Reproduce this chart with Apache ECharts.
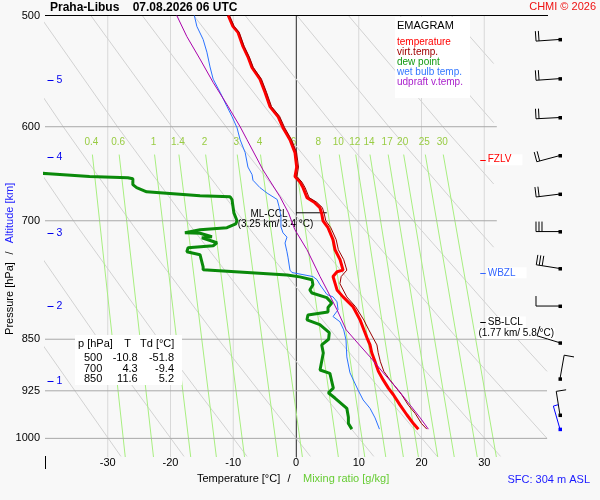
<!DOCTYPE html>
<html><head><meta charset="utf-8">
<script src="https://cdn.jsdelivr.net/npm/echarts@6/dist/echarts.min.js"></script>
<style>html,body{margin:0;padding:0;background:#f8f8f8}#c{width:600px;height:500px}</style>
</head><body><div id="c"></div>
<script>
// ================= DATA =================
const pressureTicks = [500, 600, 700, 850, 925, 1000];
const isotherms = [-30, -20, -10, 0, 10, 20, 30];
const altitudeKm = [5, 4, 3, 2, 1];
const altitudeP = [555.7, 630.9, 713.9, 804.8, 910.2];

const mixRatios = ['0.4', '0.6', '1', '1.4', '2', '3', '4', '6', '8', '10', '12', '14', '17', '20', '25', '30'];
const mixTopT = [-32.45, -28.18, -22.54, -18.66, -14.40, -9.37, -5.66, -0.25, 3.72, 6.89, 9.52, 11.79, 14.69, 17.16, 20.61, 23.47];
const mixBottomT = [-27.21, -22.71, -16.78, -12.69, -8.20, -2.89, 1.02, 6.75, 10.96, 14.31, 17.11, 19.51, 22.59, 25.22, 28.88, 31.93];
const mixTopP = 628, mixBottomP = 1031;

// dry adiabats: [T, p] points
const dryAdiabats = [
  [[-52.9, 707], [-41.0, 850], [-27.9, 1030]],
  [[-54.4, 600], [-43.9, 707], [-31.5, 850], [-17.85, 1030]],
  [[-57.3, 500], [-45.7, 600], [-34.8, 707], [-21.9, 850], [-7.8, 1030]],
  [[-49.1, 500], [-37.1, 600], [-25.8, 707], [-12.4, 850], [2.3, 1030]],
  [[-40.9, 500], [-28.45, 600], [-16.7, 707], [-2.85, 850], [12.4, 1030]],
  [[-32.7, 500], [-19.8, 600], [-7.65, 707], [6.7, 850], [22.5, 1030]],
  [[-24.5, 500], [-11.15, 600], [1.4, 707], [16.2, 850], [32.6, 1030]],
  [[-16.3, 500], [-2.5, 600], [10.5, 707], [25.8, 850], [40, 1000]],
  [[-8.1, 500], [6.1, 600], [19.5, 707], [35.3, 850], [40, 896]],
  [[0.15, 500], [14.8, 600], [28.6, 707], [31.5, 731]],
  [[8.35, 500], [23.4, 600], [31.5, 659]],
  [[16.55, 500], [31.5, 596]],
  [[24.75, 500], [31.5, 541]]
];

// profiles: [p, T]
const temperature = [[500,-10.8],[509,-10.05],[514,-9.25],[526,-8.45],[535,-7.66],[544.5,-7.02],[555,-5.74],[567,-4.94],[580.5,-4.15],[590,-2.87],[601,-2.07],[613,-0.96],[626,-0.16],[641,0.11],[651,-0.16],[657,0.64],[663,1.12],[674,1.75],[679,2.9],[685,3.8],[692,4.1],[700,4.3],[708,5.1],[722,5.9],[734,6.22],[746,7.02],[759,7.5],[761,6.54],[767,5.9],[784,6.54],[793,7.5],[806,9.09],[823.5,10.21],[841,11.0],[850,11.4],[858,11.8],[869,12.07],[882,12.6],[896,13.13],[909,13.92],[921,14.72],[931,15.52],[947,16.59],[962,17.66],[976,18.71],[985,19.5]];
const virtualTemp = [[500,-10.6],[509,-9.85],[514,-9.05],[526,-8.25],[535,-7.45],[544.5,-6.8],[555,-5.5],[567,-4.7],[580.5,-3.9],[590,-2.6],[601,-1.8],[613,-0.7],[626,0.1],[641,0.4],[651,0.15],[657,0.95],[663,1.45],[674,2.1],[679,3.3],[685,4.2],[692,4.5],[700,4.75],[708,5.55],[722,6.4],[734,6.75],[746,7.6],[759,8.1],[767,7.2],[776,7.0],[793,8.1],[806,9.5],[823.5,10.8],[837,11.6],[850,12.4],[858,12.9],[869,13.1],[882,13.45],[896,14.0],[909,15.0],[921,16.0],[931,16.85],[947,17.9],[960,19.0],[976,20.0],[985,20.85]];
const dewPoint = [[500,-51.8],[600,-48],[646,-45],[648,-39.4],[651,-32.9],[652.3,-26.8],[653.4,-26.0],[659.8,-26.0],[663,-25.4],[667.5,-23.8],[668.6,-21.7],[672,-15.3],[673,-10.5],[676,-10.2],[691,-9.9],[700,-9.4],[703.5,-9.6],[708,-11.0],[710.4,-15.3],[713.9,-17.7],[714.5,-15.3],[718.6,-13.4],[719.8,-15.0],[725.7,-12.6],[729.3,-13.2],[731.7,-17.2],[736.5,-17.4],[740,-15.3],[755,-14.8],[758.6,-14.8],[765,-1.4],[767.4,0.6],[771,2.55],[777.5,2.7],[784,2.2],[788,2.55],[794,4.9],[801,5.7],[807,5.1],[813,5.1],[817,1.9],[823.5,1.75],[830,3.8],[841,5.3],[850,5.2],[858,4.1],[869.5,4.35],[894,3.83],[899,5.4],[921,5.95],[928,5.15],[936,6.2],[952,8.1],[966,8.35],[976,8.35],[985,8.9]];
const wetBulb = [[500,-16.2],[509,-15.8],[520,-14.8],[531,-14.2],[544,-13.7],[555,-13.2],[567,-12.1],[580.5,-11.0],[590,-10.2],[601,-9.4],[613,-8.9],[626,-8.1],[641,-7.66],[649,-7.0],[655,-6.86],[663,-5.74],[669,-4.6],[676,-3.0],[684,-2.7],[695,-2.4],[707,-2.4],[714,-2.07],[719,-1.44],[726,-1.75],[736.5,-1.44],[743,-1.28],[759,-0.96],[762,-0.64],[767,2.7],[771,3.35],[777.5,3.83],[790,4.94],[793,5.9],[799.5,6.54],[810,6.7],[819,5.9],[826,7.0],[837,7.6],[851,7.97],[875,8.1],[898,8.6],[924,9.9],[939,10.7],[952,11.8],[967,12.6],[985,13.3]];
const updraftVT = [[500,-19.0],[517.5,-17.4],[537,-15.3],[558,-13.2],[578.6,-11.0],[600,-8.9],[613,-7.8],[644,-5.26],[673,-2.55],[691,-1.2],[710,-0.2],[734,1.75],[767,3.83],[784,4.94],[810,6.54],[837,8.0],[851,9.4],[875,11.8],[898,13.9],[921,16.06],[947,18.2],[967,19.8],[985,21.1]];

// wind
const windP = [520, 554.5, 591, 629, 670, 712.5, 757, 805, 855, 907, 962.5, 985];
const windDir = [266, 266, 267, 255, 263, 270, 279, 270, 287, 10, 351, 344];
const windSpeed = [20, 20, 20, 20, 20, 30, 30, 10, 10, 10, 10, 5];

// levels
const levelNames = ['FZLV', 'WBZL', 'SB-LCL'];
const levelP = [633.3, 762.4, 826.2];
const levelNotes = ['', '', '(1.77 km/ 5.8 °C)'];
const mlCclP = 690.9;
const mlCclT = [0, 4.9];
const mlCclNote = '(3.25 km/ 3.4 °C)';

// table
const tableP = [500, 700, 850];
const tableT = [-10.8, 4.3, 11.6];
const tableTd = [-51.8, -9.4, 5.2];

// ================= STYLE / LAYOUT =================
const FONT = '"Liberation Sans", Arial, sans-serif';
const WIND_T = 42.07;     // horizontal station position of barbs (in °C axis units)
const LEVEL_T = 30;       // anchor of level markers
const levelColors = ['#ff0000', '#3366ff', '#000000'];

function txt(x, y, text, o) {
  const s = Object.assign({text: text, fill: '#000', fontSize: 11, fontFamily: FONT,
    align: 'left', textAlign: 'left', verticalAlign: 'middle', textVerticalAlign: 'middle'}, o || {});
  if (o && o.align) s.textAlign = o.align;
  return {type: 'text', x: x, y: y, style: s};
}
function seg(x1, y1, x2, y2, c, w) {
  return {type: 'line', shape: {x1: x1, y1: y1, x2: x2, y2: y2}, style: {stroke: c, lineWidth: w || 1}};
}
function lineSeries(pts, color, width, z, clip) {
  return {type: 'line', data: pts, showSymbol: false, symbol: 'none', silent: true, animation: false,
    clip: clip !== false, z: z, lineStyle: {color: color, width: width}};
}
const flip = arr => arr.map(d => [d[1], d[0]]);

const series = [];
// isotherms
isotherms.forEach(t => series.push(lineSeries([[t, 500], [t, 1031]], t === 0 ? '#a0a0a0' : '#d8d8d8', 1, 1)));
// dry adiabats
dryAdiabats.forEach(a => series.push(lineSeries(a, '#d2d2d2', 1, 1)));
// mixing ratio lines
mixRatios.forEach((w, i) => series.push(lineSeries([[mixTopT[i], mixTopP], [mixBottomT[i], mixBottomP]], '#a8ee80', 1, 1)));
// isobars
pressureTicks.forEach(p => {
  if (p === 500) series.push(lineSeries([[-40, p], [47, p]], '#000', 1, 2, false));
  else series.push(lineSeries([[-40, p], [p >= 800 ? 40 : 32, p]], '#a8a8a8', 1, 1));
});

// text-like marks at data coordinates
series.push({
  type: 'custom', clip: false, silent: true, animation: false, z: 2,
  data: mixRatios.map((w, i) => [mixTopT[i], mixTopP]),
  encode: {x: 0, y: 1},
  renderItem: (params, api) => {
    const pt = api.coord([api.value(0), api.value(1)]);
    return txt(pt[0] - 1, pt[1] - 12, mixRatios[params.dataIndex], {fill: '#99cc44', fontSize: 10, align: 'center'});
  }
});
series.push({
  type: 'custom', clip: false, silent: true, animation: false, z: 3,
  data: pressureTicks.map(p => [-40, p]),
  encode: {x: 0, y: 1},
  renderItem: (params, api) => {
    const pt = api.coord([api.value(0), api.value(1)]);
    return txt(pt[0] - 5, pt[1], String(pressureTicks[params.dataIndex]), {align: 'right'});
  }
});
series.push({
  type: 'custom', clip: false, silent: true, animation: false, z: 3,
  data: altitudeP.map(p => [-40, p]),
  encode: {x: 0, y: 1},
  renderItem: (params, api) => {
    const pt = api.coord([api.value(0), api.value(1)]);
    return {type: 'group', children: [
      seg(pt[0] + 2.5, Math.round(pt[1]) + 0.5, pt[0] + 8.5, Math.round(pt[1]) + 0.5, '#0000ee', 1),
      txt(pt[0] + 11.5, pt[1], String(altitudeKm[params.dataIndex]), {fill: '#0000ee', fontSize: 10.5})
    ]};
  }
});
series.push({
  type: 'custom', clip: false, silent: true, animation: false, z: 6,
  data: levelP.map(p => [LEVEL_T, p]),
  encode: {x: 0, y: 1},
  renderItem: (params, api) => {
    const i = params.dataIndex;
    const pt = api.coord([api.value(0), api.value(1)]);
    const c = levelColors[i];
    const y = Math.round(pt[1]) + 0.5;
    const ch = [];
    if (levelNotes[i]) ch.push(txt(pt[0] + 32, pt[1] + 11.5, levelNotes[i], {fontSize: 10, align: 'center', backgroundColor: '#fff', padding: [0, 1, 1, 1]}));
    ch.push(txt(pt[0] + 2.5, pt[1], levelNames[i], {fill: c, fontSize: 10, backgroundColor: '#fff', padding: [1, levelNotes[i] ? 3 : 11, 0, 1]}));
    ch.push(seg(pt[0] - 4, y, pt[0] + 1.5, y, c, 1));
    return {type: 'group', children: ch};
  }
});
// ML-CCL
series.push(lineSeries(mlCclT.map(t => [t, mlCclP]), '#000', 1, 2));
series.push({
  type: 'custom', clip: false, silent: true, animation: false, z: 2,
  data: [[mlCclT[0], mlCclP]],
  encode: {x: 0, y: 1},
  renderItem: (params, api) => {
    const pt = api.coord([api.value(0), api.value(1)]);
    return {type: 'group', children: [
      txt(pt[0] - 27, pt[1] + 1, 'ML-CCL', {fontSize: 10, align: 'center'}),
      txt(pt[0] - 20.5, pt[1] + 11.3, mlCclNote, {fontSize: 10, align: 'center'})
    ]};
  }
});

// profiles
series.push(lineSeries(flip(dewPoint), '#0a8a0a', 3, 4));
series.push(lineSeries(flip(wetBulb), '#2a72ff', 1, 4));
series.push(lineSeries(flip(temperature), '#ff0000', 3, 4));
series.push(lineSeries(flip(virtualTemp), '#990000', 1, 5));
series.push(lineSeries(flip(updraftVT), '#aa00aa', 1, 5));

// wind barbs
series.push({
  type: 'custom', clip: false, silent: true, animation: false, z: 6,
  data: windP.map((p, i) => [WIND_T, p, windDir[i], windSpeed[i]]),
  encode: {x: 0, y: 1},
  renderItem: (params, api) => {
    const i = params.dataIndex;
    const pt = api.coord([api.value(0), api.value(1)]);
    const dir = api.value(2) * Math.PI / 180, spd = api.value(3);
    const color = i === windP.length - 1 ? '#0000ff' : '#000000';
    const ux = Math.sin(dir), uy = -Math.cos(dir);
    const L = 24;
    const ex = pt[0] + ux * L, ey = pt[1] + uy * L;
    const bx = -uy, by = ux;
    const ch = [seg(pt[0], pt[1], ex, ey, color, 1)];
    let pos = 0;
    const full = Math.floor(spd / 10), half = (spd % 10) >= 5;
    for (let k = 0; k < full; k++) {
      const sx = ex - ux * pos, sy = ey - uy * pos;
      ch.push(seg(sx, sy, sx + bx * 10, sy + by * 10, color, 1));
      pos += 3;
    }
    if (half) {
      const sx = ex - ux * pos, sy = ey - uy * pos;
      ch.push(seg(sx, sy, sx + bx * 5, sy + by * 5, color, 1));
    }
    ch.push({type: 'rect', shape: {x: pt[0] - 1.5, y: pt[1] - 1.5, width: 3.5, height: 3.5}, style: {fill: color}});
    return {type: 'group', children: ch};
  }
});

// ================= GRAPHIC (titles, legend, table) =================
function gtxt(x, y, text, o) { const t = txt(x, y, text, o); t.z = 20; return t; }
const graphic = [
  gtxt(50, 8, 'Praha-Libus    07.08.2026 06 UTC', {fontSize: 12, fontWeight: 'bold'}),
  gtxt(596, 7, 'CHMI © 2026', {fill: '#ee1111', fontSize: 11, align: 'right'}),
  {type: 'rect', z: 19, shape: {x: 395, y: 17, width: 75, height: 81}, style: {fill: '#ffffff'}},
  gtxt(397, 26, 'EMAGRAM', {fontSize: 11}),
  gtxt(397, 42, 'temperature', {fill: '#ff0000', fontSize: 10}),
  gtxt(397, 52, 'virt.temp.', {fill: '#a00000', fontSize: 10}),
  gtxt(397, 62, 'dew point', {fill: '#119911', fontSize: 10}),
  gtxt(397, 72, 'wet bulb temp.', {fill: '#3377ff', fontSize: 10}),
  gtxt(397, 82, 'udpraft v.temp.', {fill: '#aa22cc', fontSize: 10}),
  {type: 'rect', z: 19, shape: {x: 75, y: 335, width: 107, height: 50}, style: {fill: '#ffffff'}},
  gtxt(78, 344, 'p [hPa]'),
  gtxt(127.5, 344, 'T', {align: 'center'}),
  gtxt(140, 344, 'Td [°C]'),
  {type: 'line', z: 20, shape: {x1: 45.5, y1: 456, x2: 45.5, y2: 469}, style: {stroke: '#000', lineWidth: 1}},
  {type: 'text', z: 20, x: 10, y: 298.5, rotation: Math.PI / 2, style: {text: 'Pressure [hPa]', fill: '#000', fontSize: 11, fontFamily: FONT, align: 'center', textAlign: 'center', verticalAlign: 'middle', textVerticalAlign: 'middle'}},
  {type: 'text', z: 20, x: 10, y: 253, rotation: Math.PI / 2, style: {text: '/', fill: '#000', fontSize: 11, fontFamily: FONT, align: 'center', textAlign: 'center', verticalAlign: 'middle', textVerticalAlign: 'middle'}},
  {type: 'text', z: 20, x: 10, y: 213, rotation: Math.PI / 2, style: {text: 'Altitude [km]', fill: '#1a1aff', fontSize: 11, fontFamily: FONT, align: 'center', textAlign: 'center', verticalAlign: 'middle', textVerticalAlign: 'middle'}},
  gtxt(197, 479, 'Temperature [°C]'),
  gtxt(289, 479, '/', {align: 'center'}),
  gtxt(303, 479, 'Mixing ratio [g/kg]', {fill: '#66cc33'}),
  gtxt(590, 480, 'SFC: 304 m ASL', {fill: '#1a1aff', align: 'right'})
];
const rowY = [358.3, 368.5, 378.7];
tableP.forEach((p, i) => {
  graphic.push(gtxt(102.3, rowY[i], String(p), {align: 'right'}));
  graphic.push(gtxt(137.7, rowY[i], tableT[i].toFixed(1), {align: 'right'}));
  graphic.push(gtxt(174, rowY[i], tableTd[i].toFixed(1), {align: 'right'}));
});

const chart = echarts.init(document.getElementById('c'), null, {renderer: 'canvas'});
chart.setOption({
  backgroundColor: '#f8f8f8',
  animation: false,
  textStyle: {fontFamily: FONT},
  grid: {left: 45, right: 53, top: 15.5, bottom: 43, containLabel: false, outerBoundsMode: 'none'},
  xAxis: {
    type: 'value', min: -40, max: 40, interval: 10,
    axisLine: {show: false}, axisTick: {show: false}, splitLine: {show: false},
    axisLabel: {color: '#000', fontSize: 11, margin: 0, fontFamily: FONT,
      formatter: v => (Math.abs(v) === 40 ? '' : String(v))}
  },
  yAxis: {
    type: 'log', logBase: 10, min: 500, max: 1031, inverse: true,
    axisLine: {show: true, lineStyle: {color: '#000', width: 1}},
    axisTick: {show: false}, axisLabel: {show: false}, splitLine: {show: false}, minorSplitLine: {show: false}
  },
  graphic: graphic,
  series: series
});
</script>
</body></html>
